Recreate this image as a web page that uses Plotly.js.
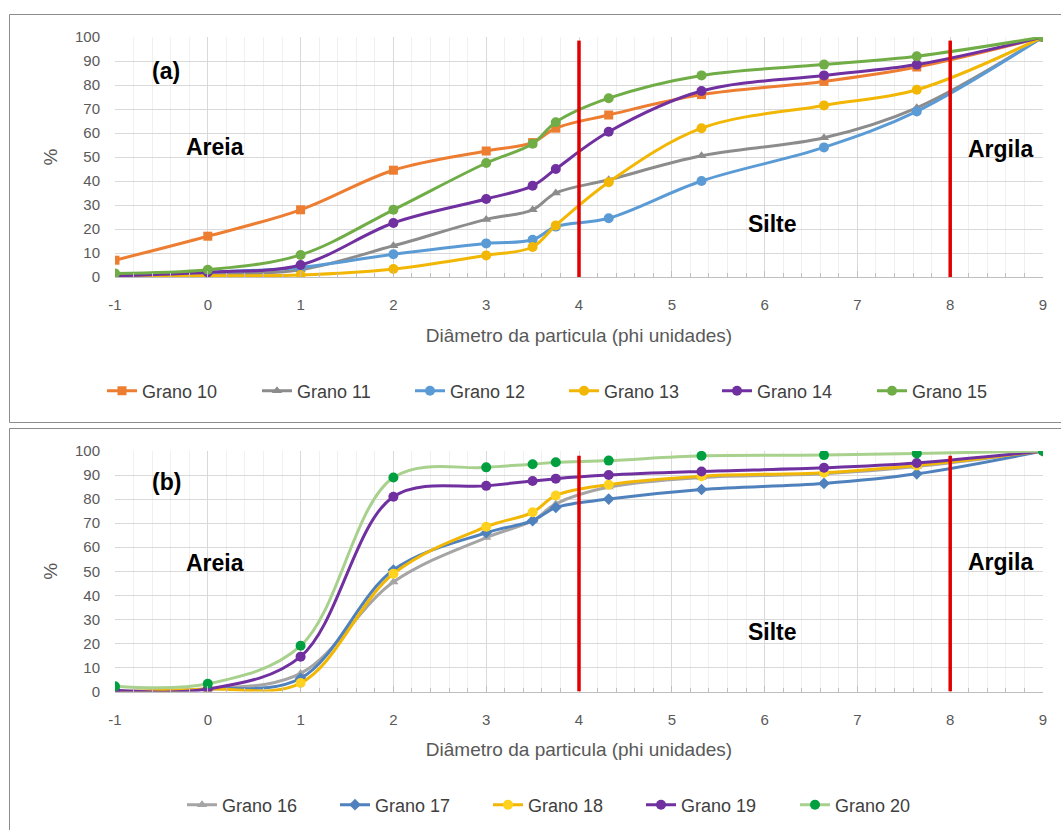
<!DOCTYPE html>
<html>
<head>
<meta charset="utf-8">
<script src="https://cdn.plot.ly/plotly-3.0.1.min.js"></script>
<style>html,body{margin:0;padding:0;background:#fff;}#chart{width:1061px;height:830px;}</style>
</head>
<body>
<div id="chart"></div>
<script>
// Particle diameter (phi units) of the sieve / pipette fractions
const phi = [-1, 0, 1, 2, 3, 3.5, 3.75, 4.32, 5.32, 6.64, 7.64, 9];

// Panel (a): cumulative %
const grano10 = [7, 17, 28, 44.5, 52.5, 56, 62, 67.5, 76, 81.5, 87.5, 100];
const grano11 = [0, 1, 3, 13, 24, 28, 35, 40.5, 50.5, 58, 70.5, 100];
const grano12 = [1, 2, 4, 9.5, 14, 15.5, 21, 24.5, 40, 54, 69, 100];
const grano13 = [0, 0.5, 0.8, 3.3, 9, 12.5, 21.5, 39.5, 62, 71.5, 78, 100];
const grano14 = [0.5, 2, 5, 22.5, 32.5, 38, 45, 60.5, 77.5, 84, 88.5, 100];
const grano15 = [1.5, 3, 9.2, 28, 47.5, 55.5, 64.5, 74.5, 84, 88.5, 92, 100];

// Panel (b): cumulative %
const grano16 = [0, 1, 7.5, 45.5, 64, 71, 78, 85, 89, 90.5, 93.5, 100];
const grano17 = [0, 1, 5.5, 50.5, 66, 71, 76.5, 80, 84, 86.5, 90.5, 100];
const grano18 = [0, 1, 3.5, 49, 68.5, 74.5, 81.5, 86, 89.5, 91, 94, 100];
const grano19 = [0.5, 1, 14.5, 81, 85.5, 87.5, 88.5, 90, 91.5, 93, 95, 100];
const grano20 = [2.2, 3.2, 19, 89, 93.2, 94.5, 95.3, 96, 98, 98.3, 99, 100];

const namesA = ['Grano 10', 'Grano 11', 'Grano 12', 'Grano 13', 'Grano 14', 'Grano 15'];
const namesB = ['Grano 16', 'Grano 17', 'Grano 18', 'Grano 19', 'Grano 20'];

// Axis ticks
const xTickVals = [-1, 0, 1, 2, 3, 4, 5, 6, 7, 8, 9];
const xTickText = ['-1', '0', '1', '2', '3', '4', '5', '6', '7', '8', '9'];

// Class boundaries (phi) and class labels
const boundaries = [4, 8];
const classLabels = ['Areia', 'Silte', 'Argila'];
const panelLabels = ['(a)', '(b)'];
const xTitle = 'Diâmetro da particula (phi unidades)';
const yTitle = '%';

const W = 1061, H = 830;

function tr(name, y, color, symbol, xa, ya, legend, mcolor) {
  return {
    x: phi, y: y, name: name, type: 'scatter', mode: 'lines+markers',
    xaxis: xa, yaxis: ya, legend: legend,
    line: {color: color, width: 3, shape: 'spline', smoothing: 1},
    marker: {color: mcolor || color, size: symbol === 'circle' ? 10 : 9, symbol: symbol}
  };
}

const styleA = [
  ['#ED7D31', 'square'], ['#8C8C8C', 'triangle-up'], ['#5B9BD5', 'circle'],
  ['#F2B705', 'circle'], ['#7030A0', 'circle'], ['#70AD47', 'circle']
];
const styleB = [
  ['#A5A5A5', 'triangle-up', null], ['#4F81BD', 'diamond', null], ['#F2B705', 'circle', '#FFD21F'],
  ['#7030A0', 'circle', null], ['#A9D18E', 'circle', '#00A040']
];
const seriesA = [grano10, grano11, grano12, grano13, grano14, grano15];
const seriesB = [grano16, grano17, grano18, grano19, grano20];

const data = [];
const legends = {};
const legFont = {family: 'Liberation Sans, Arial, sans-serif', size: 18, color: '#404040'};
// legend text start positions (px) for each entry
const legTextA = [142, 297, 450, 604, 757, 912];
const legTextB = [222, 375, 528, 681, 835];
let li = 0;
function legKey() { li += 1; return li === 1 ? 'legend' : 'legend' + li; }
function addLegend(key, textX, yPx) {
  legends[key] = {orientation: 'h', x: (textX - 40) / W, xanchor: 'left', y: 1 - yPx / H, yanchor: 'middle',
                  font: legFont, bgcolor: 'rgba(0,0,0,0)', borderwidth: 0, itemclick: false, itemdoubleclick: false};
}
seriesA.forEach((s, i) => {
  const k = legKey();
  data.push(tr(namesA[i], s, styleA[i][0], styleA[i][1], 'x', 'y', k));
  addLegend(k, legTextA[i], 391);
});
seriesB.forEach((s, i) => {
  const k = legKey();
  data.push(tr(namesB[i], s, styleB[i][0], styleB[i][1], 'x2', 'y2', k, styleB[i][2]));
  addLegend(k, legTextB[i], 805);
});

const tickFont = {family: 'Liberation Sans Narrow, Liberation Sans, sans-serif', size: 15, color: '#595959'};
const titleFont = {family: 'Liberation Sans, sans-serif', size: 19, color: '#595959'};

function xax(anchor) {
  return {
    domain: [115 / W, 1043 / W], range: [-1, 9], anchor: anchor,
    tickmode: 'array', tickvals: xTickVals, ticktext: xTickText,
    showgrid: true, gridcolor: '#D9D9D9', gridwidth: 1,
    zeroline: false, showline: true, linecolor: '#BFBFBF', linewidth: 1,
    ticks: 'inside', ticklen: 6, tickcolor: '#BFBFBF',
    minor: {dtick: 0.2, tick0: -1, showgrid: true, gridcolor: '#F0F0F0', ticks: 'inside', ticklen: 4, tickcolor: '#BFBFBF'},
    tickfont: tickFont, ticklabelstandoff: 14,
    title: {text: xTitle, font: titleFont, standoff: 16},
    automargin: false, fixedrange: true
  };
}
function yax(anchor, top, bottom) {
  return {
    domain: [1 - bottom / H, 1 - top / H], range: [0, 100], anchor: anchor,
    tickmode: 'linear', tick0: 0, dtick: 10,
    showgrid: true, gridcolor: '#D9D9D9', gridwidth: 1,
    zeroline: false, showline: false, ticks: '',
    tickfont: tickFont, ticklabelstandoff: 14,
    title: {text: yTitle, font: titleFont, standoff: 12},
    automargin: false, fixedrange: true
  };
}

const annFont = {family: 'Liberation Sans, Arial, sans-serif', size: 23, color: '#000000'};
function ann(text, x, y, xr, yr) {
  return {text: '<b>' + text + '</b>', x: x, y: y, xref: xr, yref: yr, showarrow: false,
          font: annFont, xanchor: 'center', yanchor: 'middle'};
}

const annotations = [
  ann(panelLabels[0], -0.45, 86, 'x', 'y'),
  ann(classLabels[0], 0.08, 54, 'x', 'y'),
  ann(classLabels[1], 6.09, 22, 'x', 'y'),
  ann(classLabels[2], 8.54, 53.5, 'x', 'y'),
  ann(panelLabels[1], -0.45, 87.3, 'x2', 'y2'),
  ann(classLabels[0], 0.08, 53.5, 'x2', 'y2'),
  ann(classLabels[1], 6.09, 24.8, 'x2', 'y2'),
  ann(classLabels[2], 8.54, 54, 'x2', 'y2')
];

const shapes = [];
boundaries.forEach(b => {
  shapes.push({type: 'line', xref: 'x', yref: 'y', x0: b, x1: b, y0: 0, y1: 98.5, line: {color: '#E00000', width: 3.5}});
  shapes.push({type: 'line', xref: 'x2', yref: 'y2', x0: b, x1: b, y0: 0, y1: 98, line: {color: '#E00000', width: 3.5}});
});
shapes.push({type: 'rect', xref: 'paper', yref: 'paper', x0: 9.5 / W, x1: 1.02, y0: 1 - 422.5 / H, y1: 1 - 14.5 / H,
             line: {color: '#8C8C8C', width: 1}, fillcolor: 'rgba(0,0,0,0)', layer: 'below'});
shapes.push({type: 'rect', xref: 'paper', yref: 'paper', x0: 9.5 / W, x1: 1.02, y0: -0.05, y1: 1 - 428.5 / H,
             line: {color: '#8C8C8C', width: 1}, fillcolor: 'rgba(0,0,0,0)', layer: 'below'});

const layout = Object.assign({
  width: W, height: H,
  margin: {l: 0, r: 0, t: 0, b: 0},
  paper_bgcolor: '#FFFFFF', plot_bgcolor: '#FFFFFF',
  xaxis: xax('y'), yaxis: yax('x', 37, 277),
  xaxis2: xax('y2'), yaxis2: yax('x2', 451, 691.5),
  showlegend: true,
  annotations: annotations,
  shapes: shapes,
  hovermode: false
}, legends);

Plotly.newPlot('chart', data, layout, {displayModeBar: false, staticPlot: true});
</script>
</body>
</html>
